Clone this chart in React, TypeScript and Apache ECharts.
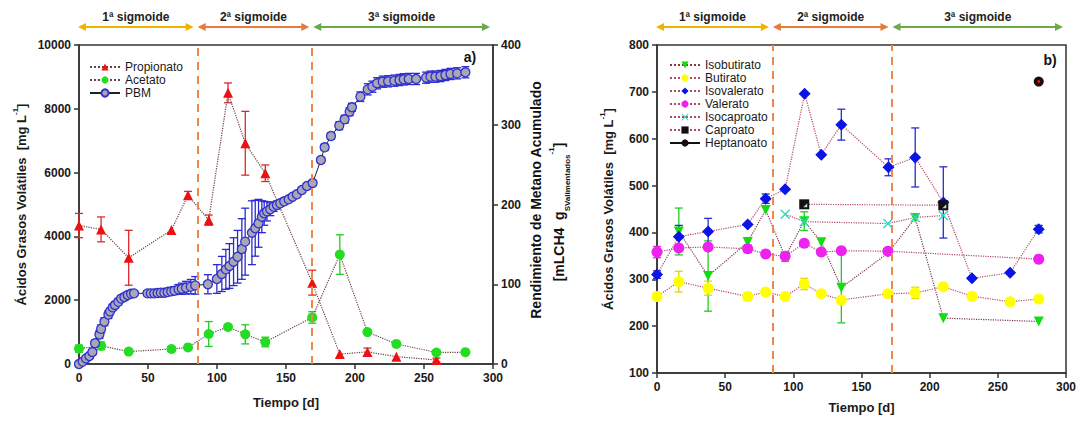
import React, { useEffect, useRef } from "react";
import * as echarts from "echarts";

// ---------- Panel a) data ----------
const propDays = [0, 16, 36, 67, 79, 94, 108, 120.5, 135, 169, 189, 209, 230, 259];
const propVals = [4340, 4220, 3330, 4200, 5290, 4510, 8500, 6920, 5980, 2550, 310, 380, 230, 125];
const propErr = [380, 390, 860, 0, 120, 160, 310, 1000, 260, 390, 0, 120, 0, 60];

const acetDays = [0, 16, 36, 67, 79, 94, 108, 120.5, 135, 169, 189, 209, 230, 259, 280];
const acetVals = [480, 570, 390, 470, 520, 940, 1160, 930, 690, 1460, 3430, 1000, 630, 360, 370];
const acetErr = [110, 120, 0, 60, 0, 390, 0, 300, 150, 180, 620, 0, 0, 0, 0];

const pbmDays = [0, 2.7, 5.1, 7.5, 9.7, 11.6, 14.8, 16, 18.4, 21.3, 22.5, 24.4, 26.1, 28.5, 30.5, 32.9, 35.3, 37.7, 39.9,
  49.6, 52, 54.5, 56.9, 59.3, 61.8, 64.2, 66.8, 69.2, 72.1, 74.5, 77.6, 81, 84.2,
  93.4, 99.9, 103.5, 106.4, 109, 112, 114.9, 118, 120.4, 125.3, 127.7, 130.1, 132.5, 134.2, 136.2, 138.6, 141, 143.4,
  145.8, 148.7, 151.9, 154.8, 157.9, 161.5, 165.2, 169.3,
  175.3, 178, 182.6, 188.6, 192.5, 196.1, 197.8, 203.9, 209.2, 212.6, 216, 220.1, 224, 228.5, 232.2, 235.3, 238.9,
  244.3, 251.5, 254.7, 258.3, 261.9, 265.5, 269.2, 274, 280];
const pbmVals = [0, 3, 7, 10, 15, 26, 37, 44, 53, 62, 66, 71, 74, 78, 82, 84, 86.5, 88, 88.6,
  88.6, 88.6, 88.6, 89, 89.4, 89.4, 90.3, 91.1, 92, 93.6, 94.4, 95.7, 97, 98.6,
  100, 106.6, 112.9, 118.7, 122.9, 128.3, 134.5, 144.2, 153.4, 164.6, 170.2, 176.4, 184.7, 189, 191.4, 194, 197.3, 199.4,
  201.5, 204, 206.5, 209.8, 212.8, 218.2, 223.2, 227,
  255.8, 271.7, 285.9, 298.8, 306.8, 316.4, 321.9, 335.2, 344.4, 347.7, 352, 354, 354.5, 355.3, 356.1, 357, 357.4,
  357.4, 359, 360.3, 360.3, 361.1, 362.4, 363.7, 364.5, 365.8];
const pbmErr = [0, 2, 2, 3, 3, 4, 5, 5, 5, 5, 4, 4, 4, 4, 4, 4, 4, 4, 3,
  3, 3, 3, 3, 3, 4, 4, 5, 5, 6, 7, 8, 9, 11,
  12, 18, 22, 25, 28, 30, 33, 38, 42, 40, 35, 30, 20, 15, 12, 8, 6, 5,
  4, 4, 3, 3, 3, 3, 3, 3,
  3, 4, 4, 5, 5, 5, 5, 6, 7, 7, 7, 7, 7, 7, 7, 7, 7,
  7, 7, 7, 7, 7, 7, 7, 7, 7];

const phaseBoundsA = [86, 169];

// ---------- Panel b) data ----------
const ibDays = [16, 37.5, 66.5, 79.7, 94, 108, 120.5, 135.2, 169.4, 189.4, 210, 280];
const ibVals = [402, 307, 379, 448, 348, 424, 379, 282, 356, 431, 217, 210];
const ibErr = [50, 75, 10, 0, 10, 20, 0, 75, 0, 0, 0, 0];

const buDays = [0, 16, 37.5, 66.5, 79.7, 94, 108, 120.5, 135.2, 169.4, 189.4, 210, 231, 259, 280];
const buVals = [263, 295, 281, 263, 273, 263, 290, 269, 256, 269, 271, 284, 264, 252, 258];
const buErr = [0, 22, 15, 8, 0, 0, 12, 0, 0, 0, 12, 0, 0, 0, 0];

const ivDays = [0, 16, 37.5, 66.5, 79.7, 94, 108.3, 120.5, 135.2, 169.8, 189.4, 210, 231, 259, 280];
const ivVals = [310, 391, 402, 417, 472, 492, 696, 566, 630, 539, 560, 464, 302, 314, 407];
const ivErr = [8, 24, 28, 0, 10, 0, 0, 0, 33, 18, 63, 76, 0, 0, 8];

const vaDays = [0, 16, 37.5, 66.5, 79.7, 94, 108, 120.5, 135.2, 169.4, 280];
const vaVals = [358, 367, 369, 365, 354, 349, 377, 358, 361, 360, 343];
const vaErr = [12, 0, 0, 8, 0, 0, 0, 0, 0, 0, 0];

const icDays = [94, 108, 169.4, 189.4, 210];
const icVals = [439, 423, 419, 432, 436];

const caDays = [108, 210];
const caVals = [460, 458];

const heDays = [280];
const heVals = [722];

const phaseBoundsB = [85, 172];
const phaseLabels = ["1ª sigmoide", "2ª sigmoide", "3ª sigmoide"];
const phaseColors = ["#f0b400", "#e8793c", "#6aaa48"];

const FONT = "'Liberation Sans', Arial, sans-serif";

const pairs = (xs: number[], ys: number[]) => xs.map((x, i) => [x, ys[i]]);
const errData = (xs: number[], ys: number[], es: number[]) =>
  xs.map((x, i) => [x, ys[i] - es[i], ys[i] + es[i]]).filter((_, i) => es[i] > 0);

function errSeries(name: string, xs: number[], ys: number[], es: number[], color: string, xi: number, yi: number) {
  return {
    type: "custom",
    name: name + "_err",
    xAxisIndex: xi,
    yAxisIndex: yi,
    z: 2,
    silent: true,
    encode: { x: 0, y: [1, 2] },
    data: errData(xs, ys, es),
    renderItem: (params: any, api: any) => {
      const x = api.value(0);
      const lo = api.coord([x, api.value(1)]);
      const hi = api.coord([x, api.value(2)]);
      const w = 4;
      const st = { stroke: color, lineWidth: 1.3 };
      return {
        type: "group",
        children: [
          { type: "line", shape: { x1: lo[0], y1: lo[1], x2: hi[0], y2: hi[1] }, style: st },
          { type: "line", shape: { x1: lo[0] - w, y1: lo[1], x2: lo[0] + w, y2: lo[1] }, style: st },
          { type: "line", shape: { x1: hi[0] - w, y1: hi[1], x2: hi[0] + w, y2: hi[1] }, style: st },
        ],
      };
    },
  };
}

const axisLineStyle = { color: "#333", width: 1.5 };
const tickLabel = {
  color: "#1a1a1a", fontWeight: "bold", fontSize: 12, fontFamily: FONT, margin: 8,
  formatter: (v: number) => String(v),
};
const nameStyle = {
  color: "#1a1a1a",
  fontWeight: "bold",
  fontSize: 13,
  fontFamily: FONT,
  lineHeight: 20,
  rich: {
    sup: { fontSize: 8, fontWeight: "bold", fontFamily: FONT, verticalAlign: "top", lineHeight: 20, color: "#1a1a1a" },
  },
};

function xAxisCfg(gi: number, gap: number) {
  return {
    gridIndex: gi,
    type: "value",
    min: 0,
    max: 300,
    interval: 50,
    axisLine: { show: true, onZero: false, lineStyle: axisLineStyle },
    axisTick: { show: true, length: 5, lineStyle: axisLineStyle },
    splitLine: { show: false },
    axisLabel: tickLabel,
    name: "Tiempo [d]",
    nameLocation: "middle",
    nameGap: gap,
    nameTextStyle: { color: "#1a1a1a", fontWeight: "bold", fontSize: 13, fontFamily: FONT },
  };
}

function lineSeries(name: string, xs: number[], ys: number[], o: any) {
  return {
    type: "line",
    name,
    data: pairs(xs, ys),
    z: 4,
    symbolSize: o.size || 9,
    symbol: o.symbol,
    itemStyle: { color: o.color, borderColor: o.border || o.color, borderWidth: o.bw || 0, opacity: 1 },
    lineStyle: { color: o.lineColor, width: o.lw || 1.2, type: o.lineType || "dotted" },
    xAxisIndex: o.xi,
    yAxisIndex: o.yi,
    showSymbol: true,
    ...(o.extra || {}),
  };
}

const dashMark = (vals: number[]) => ({
  silent: true,
  symbol: ["none", "none"],
  label: { show: false },
  lineStyle: { color: "#f0874a", width: 2, type: [8, 6] },
  data: vals.map((v) => ({ xAxis: v })),
});

export default function App() {
  const ref = useRef<HTMLDivElement>(null);
  useEffect(() => {
    if (!ref.current) return;
    const chart = echarts.init(ref.current, null, { renderer: "svg" });
    const lcA = "#6b4040";
    const lcB = "#b04a6a";
    const option: any = {
      animation: false,
      textStyle: { fontFamily: FONT },
      grid: [
        { left: 79, top: 45, width: 414, height: 319, show: true, borderColor: "#333", borderWidth: 1.5, backgroundColor: "transparent" },
        { left: 657, top: 45, width: 409, height: 328, show: true, borderColor: "#333", borderWidth: 1.5, backgroundColor: "transparent" },
      ],
      xAxis: [xAxisCfg(0, 32), xAxisCfg(1, 28)],
      yAxis: [
        {
          gridIndex: 0, type: "value", min: 0, max: 10000, interval: 2000, position: "left",
          axisLine: { show: true, lineStyle: axisLineStyle }, axisTick: { show: true, length: 5, lineStyle: axisLineStyle },
          splitLine: { show: false }, axisLabel: tickLabel,
          name: "Ácidos Grasos Volátiles  [mg L{sup|-1}]", nameLocation: "middle", nameGap: 48, nameRotate: 90,
          nameTextStyle: nameStyle,
        },
        {
          gridIndex: 0, type: "value", min: 0, max: 400, interval: 100, position: "right",
          axisLine: { show: true, lineStyle: axisLineStyle }, axisTick: { show: true, length: 5, lineStyle: axisLineStyle },
          splitLine: { show: false }, axisLabel: tickLabel,
        },
        {
          gridIndex: 1, type: "value", min: 100, max: 800, interval: 100, position: "left",
          axisLine: { show: true, lineStyle: axisLineStyle }, axisTick: { show: true, length: 5, lineStyle: axisLineStyle },
          splitLine: { show: false }, axisLabel: tickLabel,
          name: "Ácidos Grasos Volátiles  [mg L{sup|-1}]", nameLocation: "middle", nameGap: 39, nameRotate: 90,
          nameTextStyle: nameStyle,
        },
      ],
      legend: [
        {
          left: 84, top: 56, orient: "vertical", itemGap: 1, itemWidth: 30, itemHeight: 9,
          textStyle: { fontSize: 12, fontFamily: FONT, color: "#1a1a1a" },
          data: ["Propionato", "Acetato", "PBM"],
        },
        {
          left: 664, top: 54, orient: "vertical", itemGap: 1, itemWidth: 30, itemHeight: 9,
          textStyle: { fontSize: 12, fontFamily: FONT, color: "#1a1a1a" },
          data: ["Isobutirato", "Butirato", "Isovalerato", "Valerato", "Isocaproato", "Caproato", "Heptanoato"],
        },
      ],
      series: [
        errSeries("Propionato", propDays, propVals, propErr, "#e02828", 0, 0),
        errSeries("Acetato", acetDays, acetVals, acetErr, "#22cc22", 0, 0),
        errSeries("PBM", pbmDays, pbmVals, pbmErr, "#2a2ad0", 0, 1),
        lineSeries("Propionato", propDays, propVals, {
          symbol: "triangle", color: "#ee1111", lineColor: lcA, xi: 0, yi: 0, size: 10,
          extra: { markLine: dashMark(phaseBoundsA) },
        }),
        lineSeries("Acetato", acetDays, acetVals, { symbol: "circle", color: "#22dd22", lineColor: lcA, xi: 0, yi: 0, size: 10 }),
        lineSeries("PBM", pbmDays, pbmVals, {
          symbol: "circle", color: "#a8a8b4", border: "#3030d0", bw: 1.3, lineColor: "#222", lineType: "solid", lw: 1, xi: 0, yi: 1, size: 9,
        }),
        errSeries("Isobutirato", ibDays, ibVals, ibErr, "#22cc22", 1, 2),
        errSeries("Butirato", buDays, buVals, buErr, "#e6d200", 1, 2),
        errSeries("Isovalerato", ivDays, ivVals, ivErr, "#2a2ad0", 1, 2),
        errSeries("Valerato", vaDays, vaVals, vaErr, "#e020e0", 1, 2),
        lineSeries("Isobutirato", ibDays, ibVals, {
          symbol: "path://M0,0 L10,0 L5,9 Z", color: "#11dd11", lineColor: "#7a3a4a", xi: 1, yi: 2, size: 10,
          extra: { markLine: dashMark(phaseBoundsB) },
        }),
        lineSeries("Butirato", buDays, buVals, { symbol: "circle", color: "#ffff00", lineColor: lcB, xi: 1, yi: 2, size: 11 }),
        lineSeries("Isovalerato", ivDays, ivVals, { symbol: "diamond", color: "#0a14e6", lineColor: lcB, xi: 1, yi: 2, size: 12 }),
        lineSeries("Valerato", vaDays, vaVals, { symbol: "circle", color: "#ee22ee", lineColor: lcB, xi: 1, yi: 2, size: 11 }),
        lineSeries("Isocaproato", icDays, icVals, {
          symbol: "path://M0,1 L1,0 L5,4 L9,0 L10,1 L6,5 L10,9 L9,10 L5,6 L1,10 L0,9 L4,5 Z",
          color: "#30d8c0", lineColor: lcB, xi: 1, yi: 2, size: 10,
        }),
        lineSeries("Caproato", caDays, caVals, {
          symbol: "rect", color: "#111", border: "#111", bw: 0, lineColor: lcB, xi: 1, yi: 2, size: 10,
        }),
        {
          type: "scatter", name: "capro_inner", xAxisIndex: 1, yAxisIndex: 2, z: 6, silent: true,
          symbol: "path://M0,10 L10,10 L10,0 Z", symbolSize: 4, symbolOffset: [1, 1],
          itemStyle: { color: "#ffffff" }, data: pairs(caDays, caVals),
        },
        lineSeries("Heptanoato", heDays, heVals, {
          symbol: "circle", color: "#1a0a0a", lineColor: "#111", lineType: "solid", lw: 1, xi: 1, yi: 2, size: 10,
        }),
        {
          type: "scatter", name: "hept_dot", xAxisIndex: 1, yAxisIndex: 2, z: 6, silent: true,
          symbol: "circle", symbolSize: 3, itemStyle: { color: "#ff2020" }, data: pairs(heDays, heVals),
        },
      ],
    };
    chart.setOption(option);

    const px = (ai: number, v: number) => chart.convertToPixel({ xAxisIndex: ai } as any, v) as number;
    const arrowY = 27;
    const arrow = (x1: number, x2: number, color: string) => ({
      type: "group",
      silent: true,
      children: [
        { type: "line", shape: { x1: x1 + 6, y1: arrowY, x2: x2 - 6, y2: arrowY }, style: { stroke: color, lineWidth: 2 } },
        { type: "polygon", shape: { points: [[x1, arrowY], [x1 + 8, arrowY - 4], [x1 + 8, arrowY + 4]] }, style: { fill: color } },
        { type: "polygon", shape: { points: [[x2, arrowY], [x2 - 8, arrowY - 4], [x2 - 8, arrowY + 4]] }, style: { fill: color } },
      ],
    });
    const label = (x: number, t: string) => ({
      type: "text",
      silent: true,
      x,
      y: 17,
      style: { text: t, fontSize: 12, fontWeight: "bold", fontFamily: FONT, fill: "#222", align: "center", verticalAlign: "middle" },
    });
    const phaseGraphics = (ai: number, bounds: number[]) => {
      const segs = [
        [px(ai, 0) - 1, px(ai, bounds[0]) - 4],
        [px(ai, bounds[0]), px(ai, bounds[1]) - 3],
        [px(ai, bounds[1]) + 1, px(ai, 300) - 3],
      ];
      const out: any[] = [];
      segs.forEach((s, i) => {
        out.push(arrow(s[0], s[1], phaseColors[i]));
        out.push(label((s[0] + s[1]) / 2, phaseLabels[i]));
      });
      return out;
    };
    const rx = px(0, 300);
    chart.setOption({
      graphic: [
        ...phaseGraphics(0, phaseBoundsA),
        ...phaseGraphics(1, phaseBoundsB),
        {
          type: "text", silent: true, x: rx - 23, y: 57,
          style: { text: "a)", fontSize: 14, fontWeight: "bold", fontFamily: FONT, fill: "#111", align: "center", verticalAlign: "middle" },
        },
        {
          type: "text", silent: true, x: px(1, 300) - 16, y: 60,
          style: { text: "b)", fontSize: 14, fontWeight: "bold", fontFamily: FONT, fill: "#111", align: "center", verticalAlign: "middle" },
        },
        {
          type: "text", silent: true, x: rx + 43, y: 200, rotation: Math.PI / 2,
          style: { text: "Rendimiento de Metano Acumulado", fontSize: 14, fontWeight: "bold", fontFamily: FONT, fill: "#111", align: "center", verticalAlign: "middle" },
        },
        {
          type: "text", silent: true, x: rx + 66, y: 212, rotation: Math.PI / 2,
          style: {
            text: "[mLCH4  g{sub|SValimentados}{sup|-1}]",
            fontSize: 14, fontWeight: "bold", fontFamily: FONT, fill: "#111", align: "center", verticalAlign: "middle", lineHeight: 24,
            rich: {
              sub: { fontSize: 8, fontWeight: "bold", fontFamily: FONT, fill: "#111", verticalAlign: "bottom", lineHeight: 24 },
              sup: { fontSize: 8, fontWeight: "bold", fontFamily: FONT, fill: "#111", verticalAlign: "top", lineHeight: 24 },
            },
          },
        },
      ],
    });
    return () => chart.dispose();
  }, []);
  return <div ref={ref} style={{ position: "absolute", left: 0, top: 0, width: 1084, height: 422 }} />;
}
